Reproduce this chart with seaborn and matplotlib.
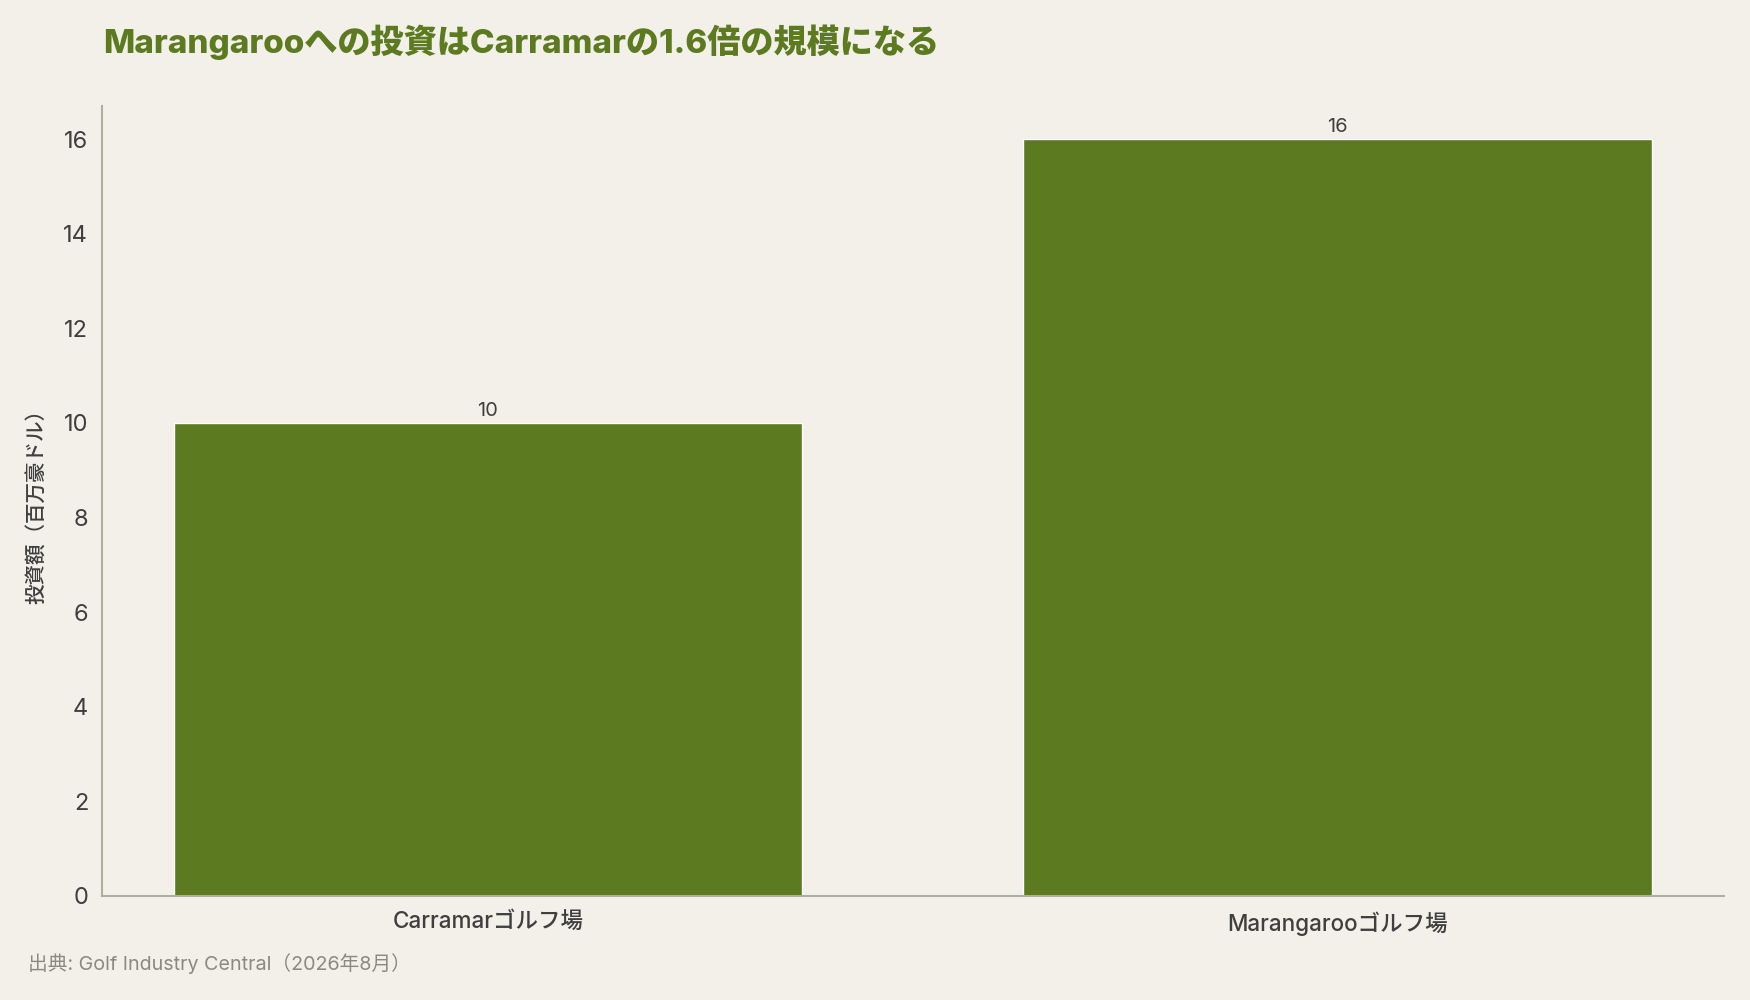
import pandas as pd
import matplotlib.pyplot as plt
import seaborn as sns

# data
courses = ["Carramarゴルフ場", "Marangarooゴルフ場"]
investment = [10, 16]

title = "Marangarooへの投資はCarramarの1.6倍の規模になる"
ylabel = "投資額（百万豪ドル）"
source = "出典: Golf Industry Central（2026年8月）"

bg = "#F3F0E9"
green = "#5C7A1F"
spine = "#A9B29B"
text_dark = "#3F3F3F"

sns.set_theme(style="white")
plt.rcParams['font.family'] = ['Inter', 'Noto Sans CJK JP', 'DejaVu Sans']

df = pd.DataFrame({"course": courses, "investment": investment})

fig = plt.figure(figsize=(17.5, 10), dpi=100, facecolor=bg)
ax = fig.add_axes([0.058, 0.104, 0.927, 0.790])
ax.set_facecolor(bg)

sns.barplot(data=df, x="course", y="investment", color=green,
            width=0.74, saturation=1, ax=ax)

# value labels on top of bars
for cont in ax.containers:
    ax.bar_label(cont, labels=[f"{v:g}" for v in investment], padding=2,
                 fontsize=14.5, color=text_dark)

ax.set_xlim(-0.455, 1.455)
ax.set_ylim(0, 16.7)
ax.set_yticks(range(0, 17, 2))

ax.set_xlabel("")
ax.set_ylabel(ylabel, fontsize=14.8, color=text_dark, labelpad=12,
              fontweight="medium")
ax.tick_params(axis="y", labelsize=17, colors=text_dark, length=6, width=1)
ax.tick_params(axis="x", labelsize=16.2, colors=text_dark, length=6, width=1, pad=5)
for lab in ax.get_xticklabels():
    lab.set_fontweight("medium")

for s in ["top", "right"]:
    ax.spines[s].set_visible(False)
for s in ["left", "bottom"]:
    ax.spines[s].set_color(spine)
    ax.spines[s].set_linewidth(1.5)

fig.text(0.059, 0.958, title, fontsize=23.9, fontweight="heavy", color=green,
         va="center", ha="left")
fig.text(0.016, 0.036, source, fontsize=14.2, color="#8A8A82",
         va="center", ha="left")

fig.savefig("out.png", dpi=100, facecolor=bg)
